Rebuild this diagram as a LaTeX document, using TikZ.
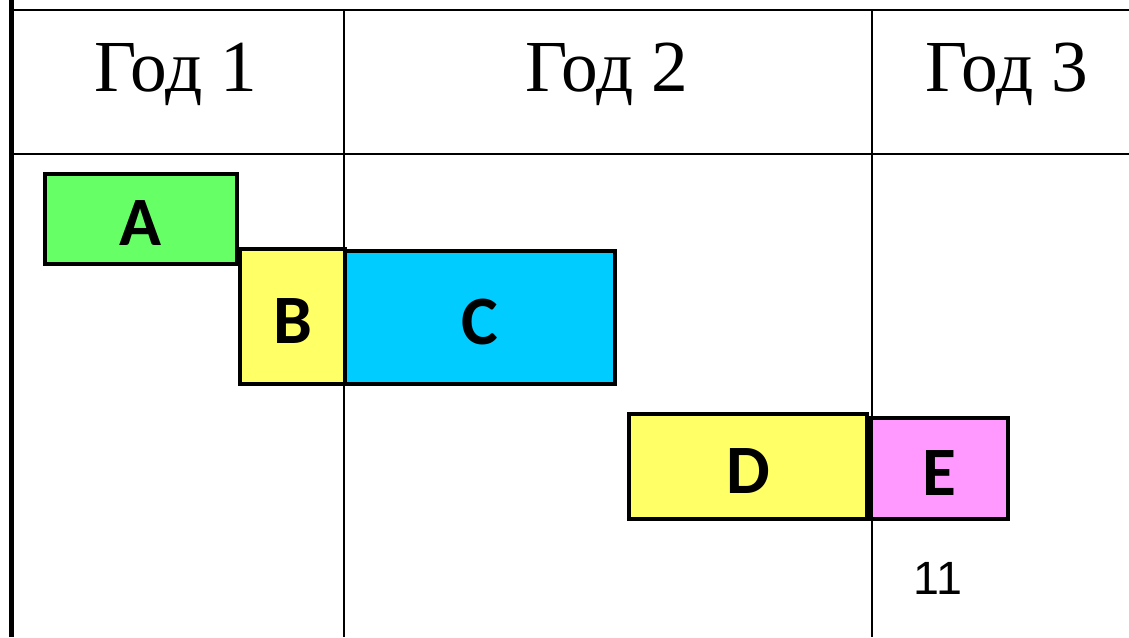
\documentclass[tikz,border=0pt]{standalone}
\usepackage{fontspec}
\setmainfont{Liberation Serif}
\newfontfamily\barfont{Carlito}
\newfontfamily\numfont{Liberation Sans}
\usepackage{tikz}
\usetikzlibrary{positioning}

\definecolor{barGreen}{HTML}{66FF66}
\definecolor{barYellow}{HTML}{FFFF66}
\definecolor{barCyan}{HTML}{00CCFF}
\definecolor{barPink}{HTML}{FF99FF}

\tikzset{
  gridline/.style={line width=2.2pt, draw=black},
  yearlabel/.style={anchor=base, inner sep=0pt, font=\fontsize{55}{57}\selectfont},
  taskbar/.style={draw=black, line width=2.4pt, rectangle, inner sep=0pt,
                  text height=40pt, text depth=0pt,
                  font=\barfont\bfseries\fontsize{52}{54}\selectfont}
}

\begin{document}
\begin{tikzpicture}[x=0.75pt,y=0.75pt,yscale=-1,xscale=1]
    \useasboundingbox (0,0) rectangle (1129,637);

    %Straight Lines: table frame
    \draw [gridline]  (10,10) -- (1129,10) ;
    \draw [gridline]  (10,154) -- (1129,154) ;
    \draw [gridline]  (344,10) -- (344,637) ;
    \draw [gridline]  (872,10) -- (872,637) ;
    \draw [line width=3.5pt]  (11.5,0) -- (11.5,637) ;

    % Text Node
    \node [yearlabel] (year1) at (176,91) {Год 1};
    % Text Node
    \node [yearlabel] (year2) at (607,91) {Год 2};
    % Text Node
    \node [yearlabel] (year3) at (1007,91) {Год 3};

    %Shape: Rectangle
    \node [taskbar, fill=barGreen, minimum width=144pt, minimum height=67.5pt] (taskA) at (141,219) {A};
    %Shape: Rectangle
    \node [taskbar, fill=barYellow, minimum width=78.75pt, minimum height=101.25pt] (taskB) at (292.5,316.5) {B};
    %Shape: Rectangle
    \node [taskbar, fill=barCyan, minimum width=202.5pt, minimum height=99.75pt] (taskC) at (480,317.5) {C};
    %Shape: Rectangle
    \node [taskbar, fill=barYellow, minimum width=178.5pt, minimum height=78.75pt] (taskD) at (748,466.5) {D};
    %Shape: Rectangle
    \node [taskbar, fill=barPink, minimum width=102.75pt, minimum height=75.75pt] (taskE) at (939.5,468.5) {E};

    % Text Node
    \node [inner sep=0pt, font=\numfont\fontsize{35}{36}\selectfont] (week) at (938,578) {11};

\end{tikzpicture}
\end{document}
